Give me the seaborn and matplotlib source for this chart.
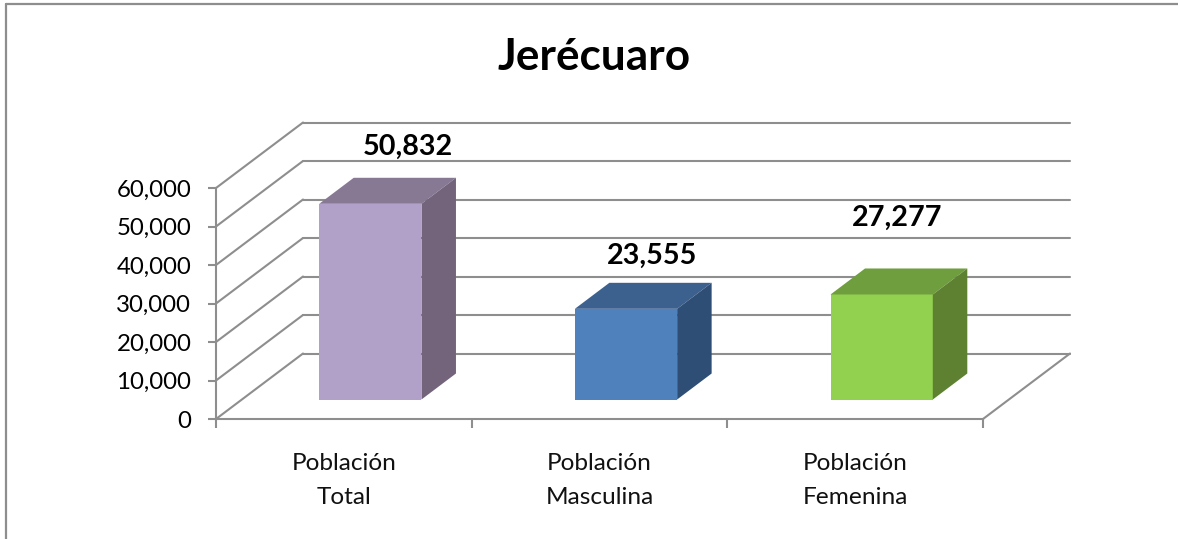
import numpy as np
import pandas as pd
import matplotlib
matplotlib.use("Agg")
import matplotlib.pyplot as plt
import matplotlib.transforms as mtransforms
from matplotlib.lines import Line2D
from matplotlib.patches import Polygon
import seaborn as sns

title = "Jerécuaro"
categories = ["Población\nTotal", "Población\nMasculina", "Población\nFemenina"]
values = [50832, 23555, 27277]
value_labels = ["50,832", "23,555", "27,277"]
y_ticks = [0, 10000, 20000, 30000, 40000, 50000, 60000]
y_tick_labels = ["0", "10,000", "20,000", "30,000", "40,000", "50,000", "60,000"]

front_colors = ["#b1a0c7", "#4f81bd", "#92d050"]
top_colors = ["#877893", "#3c618f", "#6f9e3e"]
side_colors = ["#73647c", "#2f4e75", "#5d8131"]
grid_color = "#8e8e8e"

W, H = 1178, 539
DPI = 100

sns.set_style("white")
plt.rcParams["font.family"] = ["Lato", "DejaVu Sans"]

fig = plt.figure(figsize=(W / DPI, H / DPI), dpi=DPI, facecolor="white")
ax = fig.add_axes([216 / W, 1 - 419 / H, (983 - 216) / W, (419 - 188) / H])

data = pd.DataFrame({"cat": categories, "value": values})
sns.barplot(
    data=data,
    x="cat",
    y="value",
    hue="cat",
    palette=front_colors,
    width=0.4,
    dodge=False,
    legend=False,
    saturation=1,
    ax=ax,
    zorder=3,
)

ax.set_xlim(-0.5, 2.5)
ax.set_ylim(0, 60000)
ax.set_xlabel("")
ax.set_ylabel("")
ax.patch.set_alpha(0)
fig.canvas.draw()

# depth of the floor and of the bars, in pixels
wall_dx, wall_dy = 87, 65.5
shift_dx, shift_dy = 26.5, 19.5
bar_dx, bar_dy = 34.5, 26
identity = mtransforms.IdentityTransform()
line_w = 1.5

# back wall gridlines and slanted lines on the side wall
for tick in y_ticks:
    x0, y0 = ax.transData.transform((-0.5, tick))
    x1, _ = ax.transData.transform((2.5, tick))
    back = (x0 + wall_dx, y0 + wall_dy)
    ax.add_line(Line2D([x0, back[0]], [y0, back[1]], color=grid_color, lw=line_w,
                       transform=identity, clip_on=False, zorder=1))
    ax.add_line(Line2D([back[0], x1 + wall_dx], [back[1], back[1]], color=grid_color, lw=line_w,
                       transform=identity, clip_on=False, zorder=1))
x1, y0 = ax.transData.transform((2.5, 0))
ax.add_line(Line2D([x1, x1 + wall_dx], [y0, y0 + wall_dy], color=grid_color, lw=line_w,
                   transform=identity, clip_on=False, zorder=1))

# move the bars back on the floor and add the top and side faces
offset = mtransforms.Affine2D().translate(shift_dx, shift_dy)
for i, patch in enumerate(ax.patches):
    x_left, y_base = ax.transData.transform((patch.get_x(), 0))
    x_right, y_top = ax.transData.transform((patch.get_x() + patch.get_width(), patch.get_height()))
    x_left, x_right = x_left + shift_dx, x_right + shift_dx
    y_base, y_top = y_base + shift_dy, y_top + shift_dy
    patch.set_transform(ax.transData + offset)
    patch.set_clip_on(False)
    patch.set_edgecolor("none")
    ax.add_patch(Polygon(
        [(x_left, y_top), (x_right, y_top), (x_right + bar_dx, y_top + bar_dy), (x_left + bar_dx, y_top + bar_dy)],
        closed=True, facecolor=top_colors[i], edgecolor="none", transform=identity, clip_on=False, zorder=3,
    ))
    ax.add_patch(Polygon(
        [(x_right, y_base), (x_right + bar_dx, y_base + bar_dy), (x_right + bar_dx, y_top + bar_dy), (x_right, y_top)],
        closed=True, facecolor=side_colors[i], edgecolor="none", transform=identity, clip_on=False, zorder=3,
    ))

# value labels sit loose above the bars (offsets in pixels from the front top centre)
label_offsets = [(38, 57), (26, 53), (15, 77)]
for i, (val, txt) in enumerate(zip(values, value_labels)):
    ox, oy = label_offsets[i]
    ax.annotate(
        txt,
        xy=(i, val),
        xytext=((shift_dx + ox) * 72 / DPI, (shift_dy + oy) * 72 / DPI),
        textcoords="offset points",
        ha="center",
        va="center",
        fontsize=20.7,
        fontweight="bold",
        color="black",
        zorder=5,
    )

for side in ["top", "right"]:
    ax.spines[side].set_visible(False)
for side in ["left", "bottom"]:
    ax.spines[side].set_color(grid_color)
    ax.spines[side].set_linewidth(line_w)

ax.set_yticks(y_ticks)
ax.set_yticklabels(y_tick_labels)
ax.tick_params(axis="y", which="major", left=True, length=5.8, width=line_w, color=grid_color,
               labelsize=17.3, pad=12, labelcolor="black")
ax.set_xticks([0, 1, 2])
ax.set_xticklabels(categories)
ax.set_xticks([-0.5, 0.5, 1.5, 2.5], minor=True)
ax.tick_params(axis="x", which="major", bottom=False, labelsize=17.6, pad=21, labelcolor="#111111")
ax.tick_params(axis="x", which="minor", bottom=True, length=6.5, width=line_w, color=grid_color)
for lab in ax.get_xticklabels():
    lab.set_linespacing(1.75)

fig.text(594 / W, 1 - 57 / H, title, ha="center", va="center", fontsize=31.8, fontweight="bold", color="black")

# chart frame, only partly inside the crop
fig.add_artist(Line2D([6 / W, 6 / W], [0, 1 - 4 / H], color=grid_color, lw=1.6))
fig.add_artist(Line2D([6 / W, 1], [1 - 4 / H, 1 - 4 / H], color=grid_color, lw=1.6))

fig.savefig("out.png", dpi=DPI, facecolor="white")
